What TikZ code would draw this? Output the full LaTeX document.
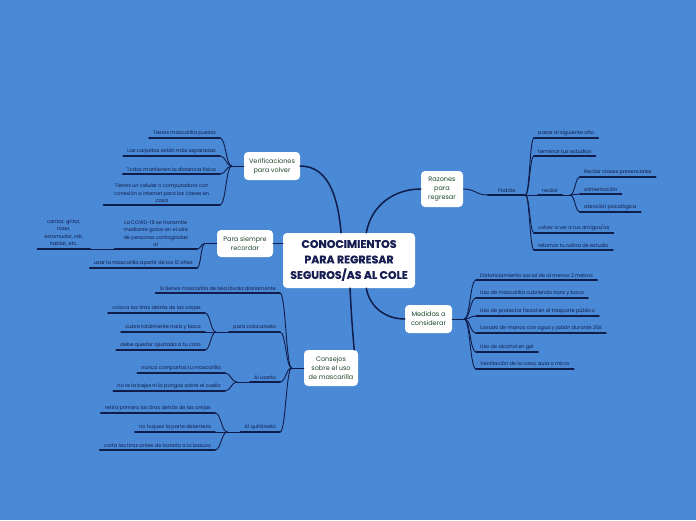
\documentclass[tikz,border=0pt]{standalone}
\usepackage{fontspec}
\setmainfont{Poppins}
\newfontfamily\gruesa{Poppins}[FakeBold=0.7]
\usetikzlibrary{calc}

\definecolor{fondo}{RGB}{74,137,214}
\definecolor{tinta}{RGB}{16,28,74}
\definecolor{verde}{RGB}{26,70,40}
\definecolor{titulo}{RGB}{22,30,82}

\tikzset{
  caja/.style={fill=white,rounded corners=4pt,text=verde,align=center,
    font=\fontsize{6.5}{9}\selectfont,inner sep=1pt},
  hoja/.style={text=tinta,align=center,font=\fontsize{5}{7.5}\selectfont,
    inner xsep=4pt,inner ysep=2.2pt},
  tronco/.style={draw=tinta,line width=1.5pt},
  rama/.style={draw=tinta,line width=0.9pt},
  raya/.style={draw=tinta,line width=1.8pt},
  curva/.style={to path={.. controls ($(\tikztostart)!0.5!(\tikztotarget |- \tikztostart)$)
      and ($(\tikztotarget)!0.5!(\tikztostart |- \tikztotarget)$) .. (\tikztotarget)}}
}

\begin{document}
\begin{tikzpicture}[x=1pt,y=-1pt,line cap=round,line join=round]
	\fill[fondo] (0,0) rectangle (696,520);
	\useasboundingbox (0,0) rectangle (696,520);
	
	\node[caja,minimum width=132pt,minimum height=55pt,text=titulo,
	  font=\fontsize{11}{15.5}\selectfont\gruesa\bfseries] (cen) at (349,260.5)
	  {CONOCIMIENTOS\\PARA REGRESAR\\SEGUROS/AS AL COLE};
	\node[caja,minimum width=56pt,minimum height=28pt] (ver) at (272,166) {Verificaciones\\para volver};
	\node[caja,minimum width=42pt,minimum height=36pt] (raz) at (442,189) {Razones\\para\\regresar};
	\node[caja,minimum width=56pt,minimum height=27pt] (psr) at (245,243.5) {Para siempre\\recordar};
	\node[caja,minimum width=47pt,minimum height=28pt] (med) at (428.5,319) {Medidas a\\considerar};
	\node[caja,minimum width=54pt,minimum height=36pt] (con) at (331,368) {Consejos\\sobre el uso\\de mascarilla};
	
	% verificaciones
	\node[hoja,anchor=south east] (v1) at (220,138) {Tienes mascarilla puesta};
	\node[hoja,anchor=south east] (v2) at (220,156) {Las carpetas están más separadas};
	\node[hoja,anchor=south east] (v3) at (220,174) {Todos mantienen la distancia física};
	\node[hoja,anchor=south east,minimum width=116pt] (v4) at (220,205) {Tienes un celular o computadora con\\conexión a internet para las clases en\\casa};
	
	% para siempre recordar
	\node[hoja,anchor=south east,minimum width=82pt] (p1) at (197,249) {La COVID-19 se transmite\\mediante gotas en el aire\\de personas contagiadas\\al};
	\node[hoja,anchor=south east,minimum width=52pt] (pc) at (90,249) {cantar, gritar,\\toser,\\estornudar, reír,\\hablar, etc.};
	\node[hoja,anchor=south east] (p2) at (197,268) {usar la mascarilla apartir de los 12 años};
	
	% consejos
	\node[hoja,anchor=south east] (c1) at (280,293) {Si tienes mascarilla de tela lávala diariamente};
	\node[hoja,anchor=south east] (col) at (280,332) {para colocarsela};
	\node[hoja,anchor=south east] (usa) at (280,382) {Al usarla};
	\node[hoja,anchor=south east] (qui) at (280,432) {Al quitársela};
	\node[hoja,anchor=south east] (c21) at (205,313) {coloca las tiras detrás de las orejas};
	\node[hoja,anchor=south east] (c22) at (205,332) {cubre totalmente nariz y boca};
	\node[hoja,anchor=south east] (c23) at (205,350) {debe quedar ajustada a tu cara};
	\node[hoja,anchor=south east] (c31) at (225,373) {nunca compartas tu mascarilla};
	\node[hoja,anchor=south east] (c32) at (225,391) {no te la bajes ni la pongas sobre el cuello};
	\node[hoja,anchor=south east] (c41) at (215,413) {retira primero las tiras detrás de las orejas};
	\node[hoja,anchor=south east] (c42) at (215,432) {no toques la parte delantera};
	\node[hoja,anchor=south east] (c43) at (215,450) {corta las tiras antes de botarla a la basura};
	
	% razones
	\node[hoja,anchor=south west,minimum width=37pt] (pod) at (488,195) {Podrás};
	\node[hoja,anchor=south west] (r1) at (534,138) {pasar al siguiente año};
	\node[hoja,anchor=south west] (r2) at (534,156) {terminar tus estudios};
	\node[hoja,anchor=south west] (rec) at (538,195) {recibir};
	\node[hoja,anchor=south west] (r4) at (534,233) {volver a ver a tus amigos/as};
	\node[hoja,anchor=south west] (r5) at (534,250) {retomar tu rutina de estudio};
	\node[hoja,anchor=south west] (r31) at (580,177) {Recibir clases presenciales};
	\node[hoja,anchor=south west] (r32) at (580,194) {alimentación};
	\node[hoja,anchor=south west] (r33) at (580,212) {atención psicológica};
	
	% medidas
	\node[hoja,anchor=south west] (m1) at (476,280) {Distanciamiento social de al menos 2 metros};
	\node[hoja,anchor=south west] (m2) at (476,298) {Uso de mascarilla cubriendo nariz y boca};
	\node[hoja,anchor=south west] (m3) at (476,316) {Uso de protector facial en el trasporte público};
	\node[hoja,anchor=south west] (m4) at (476,333) {Lavado de manos con agua y jabón durante 20s};
	\node[hoja,anchor=south west] (m5) at (476,352) {Uso de alcohol en gel};
	\node[hoja,anchor=south west] (m6) at (476,369) {Ventilación de la casa, aula o micro};
	
	\foreach \n in {v1,v2,v3,v4,p1,pc,p2,c1,col,usa,qui,c21,c22,c23,c31,c32,c41,c42,c43,
	  pod,r1,r2,rec,r4,r5,r31,r32,r33,m1,m2,m3,m4,m5,m6}
	  \draw[raya] (\n.south west) -- (\n.south east);
	
	% ramas
	\draw[tronco] (cen.106) to[out=95,in=0] (ver.east);
	\draw[tronco] (cen.58) to[out=80,in=180] (raz.west);
	\draw[tronco] (psr.east) -- (psr.east -| cen.west);
	\draw[tronco] (cen.-58) to[out=-80,in=180] (med.west);
	\draw[tronco] ($(cen.south)+(1,0)$) to[out=-87,in=95] ($(con.north east)+(-4,0)$);
	
	\coordinate (jv) at ($(ver.west)+(-12,0)$);
	\draw[rama] (ver.west) -- (jv);
	\foreach \n in {v1,v2,v3,v4} \draw[rama] (jv) to[curva] (\n.south east);
	
	\coordinate (jp) at ($(psr.west)+(-12,0)$);
	\draw[rama] (psr.west) -- (jp);
	\foreach \n in {p1,p2} \draw[rama] (jp) to[curva] (\n.south east);
	\draw[rama,line width=0.5pt] (p1.south west) -- (pc.south east);
	
	\coordinate (jc) at ($(con.west)+(-12,0)$);
	\draw[rama] (con.west) -- (jc);
	\foreach \n in {c1,col,usa,qui} \draw[rama] (jc) to[curva] (\n.south east);
	\coordinate (jcol) at ($(col.south west)+(-13,0)$);
	\draw[rama] (col.south west) -- (jcol);
	\foreach \n in {c21,c22,c23} \draw[rama] (jcol) to[curva] (\n.south east);
	\coordinate (jusa) at ($(usa.south west)+(-13,0)$);
	\draw[rama] (usa.south west) -- (jusa);
	\foreach \n in {c31,c32} \draw[rama] (jusa) to[curva] (\n.south east);
	\coordinate (jqui) at ($(qui.south west)+(-13,0)$);
	\draw[rama] (qui.south west) -- (jqui);
	\foreach \n in {c41,c42,c43} \draw[rama] (jqui) to[curva] (\n.south east);
	
	\draw[rama] (raz.east) to[curva] (pod.south west);
	\foreach \n in {r1,r2,rec,r4,r5} \draw[rama] (pod.south east) to[curva] (\n.south west);
	\coordinate (jrec) at ($(rec.south east)+(8,0)$);
	\draw[rama] (rec.south east) -- (jrec);
	\foreach \n in {r31,r32,r33} \draw[rama] (jrec) to[curva] (\n.south west);
	
	\coordinate (jm) at ($(med.east)+(12,0)$);
	\draw[rama] (med.east) -- (jm);
	\foreach \n in {m1,m2,m3,m4,m5,m6} \draw[rama] (jm) to[curva] (\n.south west);
\end{tikzpicture}
\end{document}
